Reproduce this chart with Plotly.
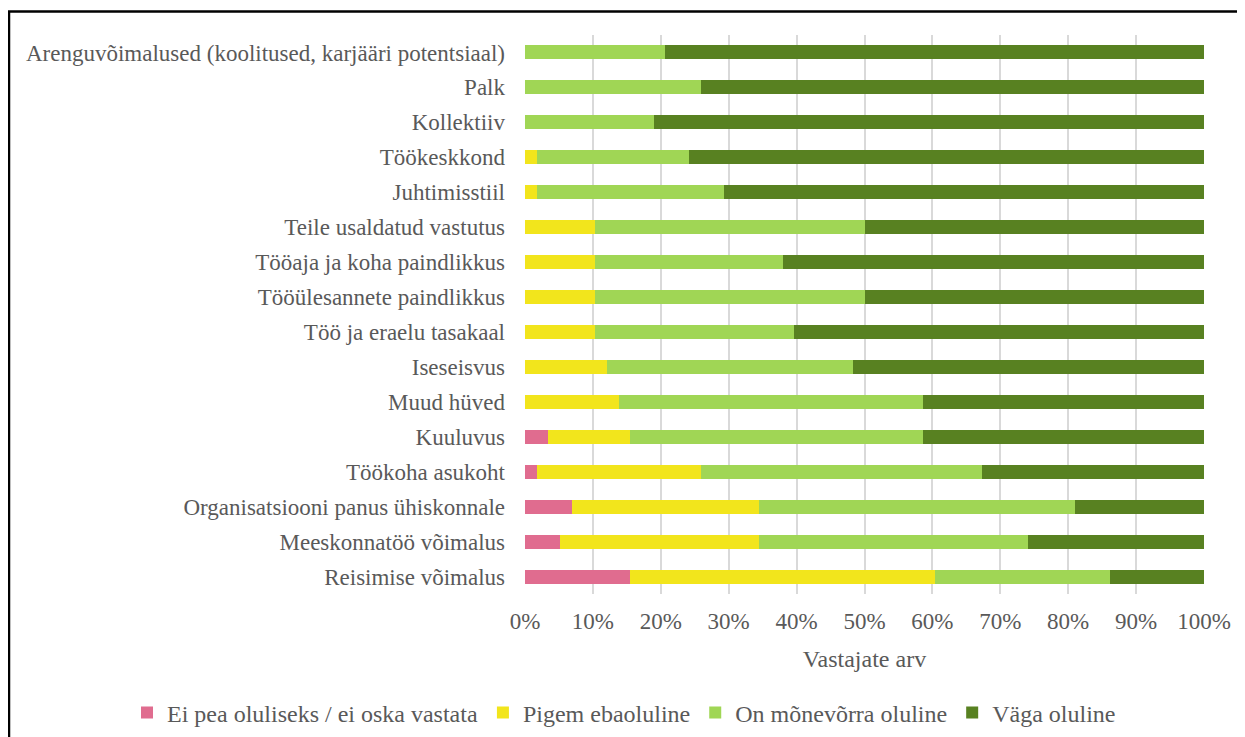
import plotly.graph_objects as go

categories = [
    "Arenguvõimalused (koolitused, karjääri potentsiaal)",
    "Palk",
    "Kollektiiv",
    "Töökeskkond",
    "Juhtimisstiil",
    "Teile usaldatud vastutus",
    "Tööaja ja koha paindlikkus",
    "Tööülesannete paindlikkus",
    "Töö ja eraelu tasakaal",
    "Iseseisvus",
    "Muud hüved",
    "Kuuluvus",
    "Töökoha asukoht",
    "Organisatsiooni panus ühiskonnale",
    "Meeskonnatöö võimalus",
    "Reisimise võimalus",
]

series_names = [
    "Ei pea oluliseks / ei oska vastata",
    "Pigem ebaoluline",
    "On mõnevõrra oluline",
    "Väga oluline",
]

ei_pea = [0, 0, 0, 0, 0, 0, 0, 0, 0, 0, 0, 2, 1, 4, 3, 9]
pigem_ebaoluline = [0, 0, 0, 1, 1, 6, 6, 6, 6, 7, 8, 7, 14, 16, 17, 26]
monevorra = [12, 15, 11, 13, 16, 23, 16, 23, 17, 21, 26, 25, 24, 27, 23, 15]
vaga = [46, 43, 47, 44, 41, 29, 36, 29, 35, 30, 24, 24, 19, 11, 15, 8]

x_ticks = [0, 10, 20, 30, 40, 50, 60, 70, 80, 90, 100]
x_tick_labels = [f"{v}%" for v in x_ticks]

colors = ["#E06C8F", "#F2E51C", "#A0D655", "#588121"]

FONT = "Liberation Serif, Times New Roman, serif"
GRAY = "#595959"
FS = 23

fig = go.Figure()
for name, vals, col in zip(series_names, [ei_pea, pigem_ebaoluline, monevorra, vaga], colors):
    fig.add_trace(go.Bar(
        y=categories, x=vals, name=name, orientation="h",
        marker=dict(color=col, line=dict(width=0)),
    ))

W, H = 1245, 737
L, R, T, B = 517, 49, 26.5, 150.5
pw, ph = W - L - R, H - T - B

def px_x(p):
    return (p - L) / pw

def px_y(p):
    return (H - B - p) / ph

fig.update_layout(
    width=W, height=H,
    barmode="stack", barnorm="percent", bargap=0.6,
    paper_bgcolor="white", plot_bgcolor="white",
    margin=dict(l=L, r=R, t=T, b=B, pad=0, autoexpand=False),
    font=dict(family=FONT, size=FS, color=GRAY),
    xaxis=dict(
        range=[0, 100], tickvals=x_ticks, ticktext=x_tick_labels,
        showgrid=True, gridcolor="#D9D9D9", gridwidth=1.5,
        zeroline=False, showline=False, ticks="",
        tickfont=dict(family=FONT, size=FS, color=GRAY),
        ticklabelstandoff=11,
        title=dict(text="Vastajate arv", font=dict(family=FONT, size=24, color=GRAY), standoff=17),
        automargin=False,
        fixedrange=True,
    ),
    yaxis=dict(
        categoryorder="array", categoryarray=categories, autorange="reversed",
        showgrid=False, showline=False, ticks="",
        ticklabelstandoff=19,
        tickfont=dict(family=FONT, size=FS, color=GRAY),
        automargin=False,
        fixedrange=True,
    ),
    legend=dict(
        orientation="h", x=px_x(119), y=px_y(683), xanchor="left", yanchor="top",
        font=dict(family=FONT, size=24, color=GRAY), traceorder="normal",
        itemwidth=30,
    ),
    shapes=[
        dict(type="path", xref="paper", yref="paper",
             path=f"M {px_x(1)} {px_y(760)} L {px_x(1)} {px_y(3)} L {px_x(1260)} {px_y(3)}",
             line=dict(color="black", width=2.5)),
    ],
)

fig.write_html("out.html")
